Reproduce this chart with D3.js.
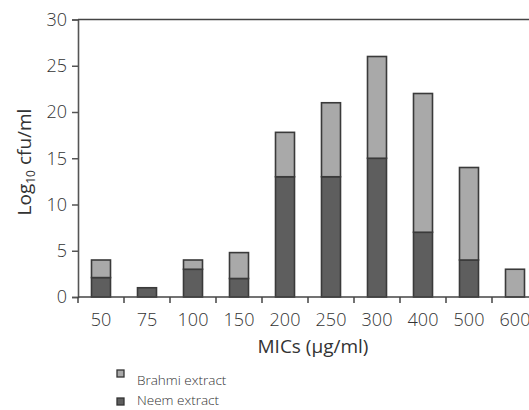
<!DOCTYPE html>
<html>
<head>
<meta charset="utf-8">
<script src="https://cdn.jsdelivr.net/npm/d3@7"></script>
<style>
  body { margin: 0; background: #fff; }
  text { font-family: "Open Sans", "DejaVu Sans", sans-serif; font-weight: 300; fill: #333; }
</style>
</head>
<body>
<div class="chart"></div>
<script>
"use strict";

// data
var categories = ["50", "75", "100", "150", "200", "250", "300", "400", "500", "600"];
var neem   = [2.1, 1, 3, 2, 13, 13, 15, 7, 4, 0];
var brahmi = [1.9, 0, 1, 2.8, 4.8, 8, 11, 15, 10, 3];
var yTicks = [0, 5, 10, 15, 20, 25, 30];

var width = 529,
    height = 410;

var svg = d3.select(".chart")
          .append("svg")
          .attr("width", width)
          .attr("height", height);

var x = d3.scaleBand()
    .domain(categories)
    .range([78, 78 + 46 * categories.length])
    .padding(0);

var y = d3.scaleLinear()
    .domain([0, 30])
    .range([297, 19.5]);

var rows = categories.map(function(c, i){
  return {cat: c, neem: neem[i], brahmi: brahmi[i]};
});

var stack = d3.stack().keys(["neem", "brahmi"]);
var series = stack(rows);
var fills = {neem: "#5e5e5e", brahmi: "#a9a9a9"};

var barW = 19;

svg.append("g")
  .selectAll("g")
  .data(series)
  .enter().append("g")
    .attr("fill", function(d){ return fills[d.key]; })
  .selectAll("rect")
  .data(function(d){ return d.filter(function(p){ return p[1] - p[0] > 0; }); })
  .enter().append("rect")
    .attr("x", function(d){ return x(d.data.cat) + x.bandwidth()/2 - barW/2; })
    .attr("y", function(d){ return y(d[1]); })
    .attr("width", barW)
    .attr("height", function(d){ return y(d[0]) - y(d[1]); })
    .style("stroke", "#3a3a3a")
    .style("stroke-width", "1.6");

// y axis
var yAxis = svg.append("g")
    .attr("transform", "translate(78,0)")
    .call(d3.axisLeft(y).tickValues(yTicks).tickSize(6).tickPadding(5));
yAxis.select(".domain").attr("stroke", "#555").attr("stroke-width", 1.6);
yAxis.selectAll(".tick line").attr("stroke", "#555").attr("stroke-width", 1.5);
yAxis.selectAll(".tick text").style("font-size", "18px").attr("fill", "#333");

// top line
svg.append("line")
    .attr("x1", 78).attr("x2", width)
    .attr("y1", y(30)).attr("y2", y(30))
    .style("stroke", "#444")
    .style("stroke-width", "1.6");

// x axis: ticks between categories
var xg = svg.append("g").attr("transform", "translate(0," + y(0) + ")");
xg.append("line")
    .attr("x1", 78).attr("x2", width)
    .style("stroke", "#444")
    .style("stroke-width", "1.6");
xg.selectAll(".xtick")
    .data(categories)
    .enter().append("line")
      .attr("class", "xtick")
      .attr("x1", function(d){ return x(d); })
      .attr("x2", function(d){ return x(d); })
      .attr("y1", 0).attr("y2", 6)
      .style("stroke", "#444")
      .style("stroke-width", "1.5");
xg.selectAll(".xlab")
    .data(categories)
    .enter().append("text")
      .attr("class", "xlab")
      .attr("x", function(d){ return x(d) + x.bandwidth()/2; })
      .attr("y", 29)
      .style("text-anchor", "middle")
      .style("font-size", "18px")
      .text(function(d){ return d; });

// axis titles
svg.append("text")
    .attr("x", 313)
    .attr("y", 353)
    .style("text-anchor", "middle")
    .style("font-size", "19px")
    .style("font-weight", "400")
    .text("MICs (µg/ml)");

var yt = svg.append("text")
    .attr("transform", "translate(31,162) rotate(-90)")
    .style("text-anchor", "middle")
    .style("font-size", "19px")
    .style("font-weight", "400");
yt.append("tspan").text("Log");
yt.append("tspan").attr("dy", 4).style("font-size", "12px").text("10");
yt.append("tspan").attr("dy", -4).text(" cfu/ml");

// legend
var legendItems = [["Brahmi extract", fills.brahmi, 370, 385], ["Neem extract", fills.neem, 398, 405]];
var lg = svg.append("g")
    .selectAll("g")
    .data(legendItems)
    .enter().append("g");
lg.append("rect")
    .attr("x", 117)
    .attr("y", function(d){ return d[2]; })
    .attr("width", 7).attr("height", 7)
    .attr("fill", function(d){ return d[1]; })
    .style("stroke", "#333")
    .style("stroke-width", "1.3");
lg.append("text")
    .attr("x", 137)
    .attr("y", function(d){ return d[3]; })
    .style("font-size", "13.5px")
    .text(function(d){ return d[0]; });
</script>
</body>
</html>
